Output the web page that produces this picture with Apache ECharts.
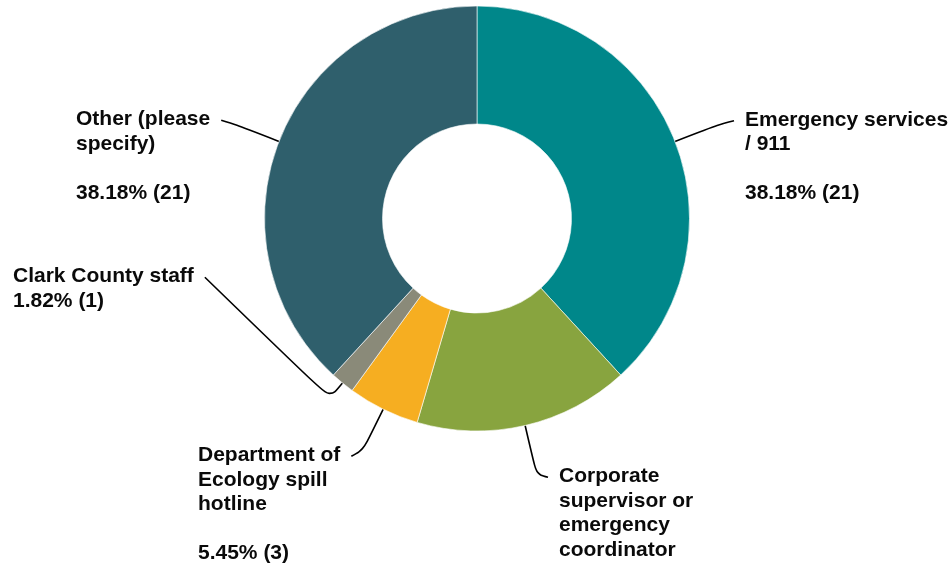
<!DOCTYPE html>
<html>
<head>
<meta charset="utf-8">
<script src="https://cdn.jsdelivr.net/npm/echarts@6/dist/echarts.min.js"></script>
<style>
  html, body { margin: 0; padding: 0; background: #ffffff; }
  #chart { width: 951px; height: 567px; }
</style>
</head>
<body>
<div id="chart"></div>
<script>
// Survey responses: who was contacted first
const categories = [
  'Emergency services / 911',
  'Corporate supervisor or emergency coordinator',
  'Department of Ecology spill hotline',
  'Clark County staff',
  'Other (please specify)'
];
const counts = [21, 9, 3, 1, 21];

// Wrapped label text for each category
const labelNames = [
  'Emergency services\n/ 911',
  'Corporate\nsupervisor or\nemergency\ncoordinator',
  'Department of\nEcology spill\nhotline',
  'Clark County staff',
  'Other (please\nspecify)'
];
// Whether the percentage sits after a blank line (true) or right below (false)
const gapBeforeValue = [true, true, true, false, true];
// Show the percentage line (the corporate one falls below the visible area)
const showValue = [true, false, true, true, true];

const colors = ['#00878a', '#88a43f', '#f6ae21', '#8a8a79', '#2f5f6c'];

// Label anchor (top-left of each text block) and leader bend length
const labelPos = [
  [745, 107.5],
  [559, 464],
  [198, 443],
  [13, 264],
  [76, 107]
];
const bendLength = [45, 50, 45, 20, 45];

const CX = 477, CY = 218.5, R_IN = 94.5, R_OUT = 212.5;
const LINE_H = 24.5;
const GAP = 11;

const total = counts.reduce((a, b) => a + b, 0);

// Mid angle (radians, math orientation) of each slice, clockwise from 12 o'clock
const midAngles = (() => {
  const out = [];
  let acc = 0;
  counts.forEach((v) => {
    const mid = acc + v / 2;
    out.push(Math.PI / 2 - (mid / total) * Math.PI * 2);
    acc += v;
  });
  return out;
})();

const chart = echarts.init(document.getElementById('chart'), null, { renderer: 'canvas' });

chart.setOption({
  animation: false,
  backgroundColor: '#ffffff',
  series: [{
    type: 'pie',
    center: [CX, CY],
    radius: [R_IN, R_OUT],
    startAngle: 90,
    clockwise: true,
    percentPrecision: 2,
    avoidLabelOverlap: false,
    itemStyle: { borderColor: '#ffffff', borderWidth: 0.6 },
    data: categories.map((name, i) => ({
      name: name,
      value: counts[i],
      itemStyle: { color: colors[i] }
    })),
    label: {
      show: true,
      position: 'outside',
      color: '#0a0a0a',
      fontFamily: 'Liberation Sans, Arial, sans-serif',
      fontWeight: 'bold',
      fontSize: 21,
      lineHeight: LINE_H,
      align: 'left',
      formatter: (p) => {
        const i = p.dataIndex;
        const txt = labelNames[i];
        if (!showValue[i]) return txt;
        const pct = (counts[i] / total * 100).toFixed(2) + '% (' + counts[i] + ')';
        return txt + (gapBeforeValue[i] ? '\n\n' : '\n') + pct;
      }
    },
    labelLine: {
      show: true,
      smooth: 0.35,
      length: 20,
      length2: 20,
      lineStyle: { color: '#000000', width: 1.6 }
    },
    labelLayout: (params) => {
      const i = params.dataIndex;
      const p = labelPos[i];
      const a = midAngles[i];
      const dx = Math.cos(a), dy = -Math.sin(a);
      const p0 = [CX + R_OUT * dx, CY + R_OUT * dy];
      const p1 = [p0[0] + bendLength[i] * dx, p0[1] + bendLength[i] * dy];
      const onRight = dx > 0;
      const endX = onRight ? p[0] - GAP : p[0] + params.labelRect.width + GAP;
      const p2 = [endX, p[1] + LINE_H / 2 + 1];
      return {
        x: p[0],
        y: p[1],
        align: 'left',
        verticalAlign: 'top',
        labelLinePoints: [p0, p1, p2]
      };
    }
  }]
});
</script>
</body>
</html>
